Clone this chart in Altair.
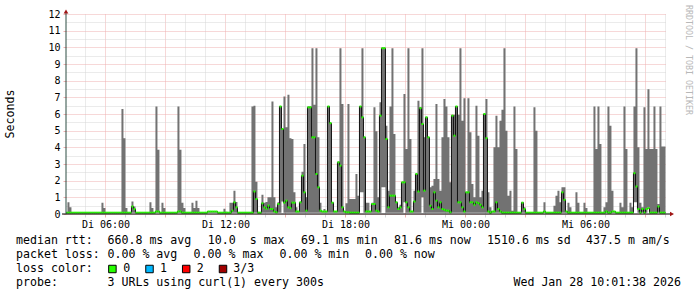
import altair as alt
import pandas as pd

# ---------------- data ----------------
# 6-minute bins counted from Tue 2026-01-27 04:00 UTC; values in seconds
spike_bin = [1, 2, 18, 19, 28, 29, 30, 33, 34, 42,
             43, 45, 46, 48, 49, 56, 57, 58, 59, 63,
             64, 65, 66, 71, 72, 73, 74, 75, 79, 80,
             82, 83, 84, 85, 93, 94, 95, 96, 98, 99,
             100, 101, 102, 103, 104, 105, 106, 107, 108, 109,
             110, 111, 112, 113, 114, 115, 116, 117, 118, 119,
             120, 121, 122, 123, 124, 125, 126, 127, 128, 129,
             130, 131, 132, 133, 134, 135, 136, 137, 138, 139,
             140, 141, 142, 143, 144, 145, 146, 147, 148, 149,
             150, 151, 152, 153, 154, 155, 156, 157, 158, 159,
             160, 161, 162, 163, 164, 165, 166, 167, 168, 169,
             170, 171, 172, 173, 174, 175, 176, 177, 178, 179,
             180, 181, 182, 183, 184, 185, 186, 187, 188, 189,
             190, 191, 192, 193, 194, 195, 196, 197, 198, 199,
             200, 201, 202, 203, 204, 205, 206, 207, 208, 209,
             210, 211, 212, 213, 214, 215, 216, 217, 218, 219,
             220, 221, 222, 223, 224, 225, 228, 229, 234, 235,
             239, 244, 245, 246, 247, 248, 249, 250, 251, 252,
             255, 256, 259, 260, 264, 265, 266, 267, 269, 270,
             271, 272, 273, 274, 277, 278, 279, 280, 282, 283,
             284, 285, 286, 287, 288, 289, 290, 291, 292, 293,
             294, 295, 296, 297, 298, 299]
spike_hi = [0.7, 0.4, 0.68, 0.36, 6.3, 4.55, 0.36, 0.75, 0.45, 0.7,
            0.36, 6.45, 3.86, 0.68, 0.36, 6.45, 3.86, 0.68, 0.36, 0.68,
            0.36, 0.8, 0.36, 0.15, 0.15, 0.15, 0.15, 0.15, 0.32, 0.14,
            0.68, 0.68, 1.39, 0.72, 6.45, 6.5, 1.93, 0.14, 1.16, 0.68,
            0.72, 1.0, 1.0, 6.75, 1.0, 0.4, 0.7, 6.45, 5.1, 7.05,
            5.2, 7.15, 4.54, 4.5, 1.3, 0.4, 0.15, 0.7, 2.53, 4.2,
            1.0, 6.45, 6.45, 9.95, 6.55, 9.95, 4.6, 0.68, 0.15, 0.3,
            0.15, 6.45, 5.45, 0.68, 0.15, 0.15, 3.15, 9.95, 6.6, 0.15,
            0.65, 6.6, 0.9, 0.9, 0.9, 2.4, 1.1, 6.45, 9.95, 4.6,
            0.68, 0.68, 0.15, 0.68, 6.4, 4.97, 1.0, 6.7, 9.95, 9.95,
            5.3, 1.4, 6.45, 9.95, 4.8, 0.7, 0.4, 0.55, 1.9, 7.2,
            3.9, 9.95, 4.5, 0.15, 1.4, 2.4, 6.8, 6.4, 9.95, 4.6,
            5.8, 4.6, 1.6, 1.7, 2.1, 6.6, 2.1, 1.4, 4.6, 6.9,
            6.45, 4.6, 1.9, 5.95, 5.95, 6.45, 5.95, 9.95, 5.6, 6.95,
            1.3, 6.95, 4.9, 1.8, 1.0, 6.5, 4.7, 1.0, 1.4, 6.0,
            6.9, 1.3, 0.4, 0.15, 4.0, 5.9, 4.0, 5.6, 6.25, 9.95,
            5.0, 1.1, 1.4, 0.2, 6.45, 3.9, 0.7, 0.4, 6.4, 5.0,
            0.7, 0.5, 1.1, 1.4, 0.7, 1.6, 1.6, 0.15, 0.68, 0.4,
            1.3, 0.68, 0.68, 0.36, 6.45, 3.9, 6.45, 4.2, 0.4, 0.7,
            6.45, 5.3, 1.4, 0.15, 0.68, 0.4, 6.45, 3.9, 0.68, 0.4,
            6.45, 9.95, 4.0, 0.68, 0.4, 6.4, 3.9, 7.48, 3.9, 3.9,
            6.45, 3.9, 0.6, 6.45, 4.05, 4.05]
spike_med = [0.08, 0.08, 0.08, 0.08, 0.08, 0.08, 0.08, 0.45, 0.3, 0.08,
             0.08, 0.15, 0.15, 0.08, 0.08, 0.15, 0.15, 0.08, 0.08, 0.08,
             0.08, 0.08, 0.08, 0.15, 0.15, 0.15, 0.15, 0.15, 0.08, 0.08,
             0.08, 0.2, 0.7, 0.4, 0.08, 1.35, 0.9, 0.08, 0.64, 0.4,
             0.32, 0.5, 0.3, 0.3, 0.15, 0.1, 0.6, 6.45, 5.1, 0.68,
             0.8, 0.4, 0.35, 0.68, 0.68, 0.15, 0.15, 0.7, 2.3, 1.3,
             0.2, 6.4, 6.4, 4.6, 4.6, 2.4, 1.6, 0.2, 0.15, 0.15,
             0.15, 6.45, 5.45, 0.68, 0.15, 0.15, 3.1, 2.9, 0.4, 0.15,
             0.1, 0.1, 0.08, 0.08, 0.08, 0.08, 0.08, 6.45, 5.8, 4.6,
             0.15, 0.15, 0.15, 0.6, 0.6, 0.2, 0.15, 5.9, 9.95, 9.95,
             4.5, 0.4, 1.1, 1.1, 1.1, 0.7, 0.3, 0.4, 1.9, 1.9,
             0.7, 0.4, 0.15, 0.15, 0.75, 2.4, 1.35, 6.35, 5.4, 1.4,
             5.8, 4.6, 0.5, 0.3, 1.3, 0.8, 0.4, 0.7, 0.3, 0.25,
             0.2, 0.2, 0.1, 5.9, 4.7, 6.45, 0.7, 0.7, 0.4, 0.15,
             1.3, 1.3, 0.7, 0.7, 0.55, 0.7, 0.65, 0.55, 0.4, 6.0,
             4.55, 0.15, 0.08, 0.15, 0.15, 0.7, 0.3, 0.15, 0.08, 0.08,
             0.08, 0.08, 0.08, 0.08, 0.08, 0.08, 0.68, 0.3, 0.08, 0.08,
             0.15, 0.08, 0.08, 0.08, 0.08, 1.3, 0.85, 0.15, 0.08, 0.08,
             0.08, 0.08, 0.08, 0.08, 0.08, 0.08, 0.08, 0.08, 0.08, 0.15,
             0.08, 0.08, 0.15, 0.15, 0.08, 0.08, 0.08, 0.08, 0.08, 0.08,
             2.45, 1.65, 0.3, 0.08, 0.3, 0.08, 0.3, 0.35, 0.08, 0.08,
             0.08, 0.08, 0.45, 0.08, 0.08, 0.08]
gap_bin = [108, 147, 148, 158, 159, 169, 178, 284, 285, 291]
gap_lo = [0.75, 1.3, 1.3, 1.6, 1.6, 0.7, 1.0, 0.7, 0.7, 0.4]
N_BINS = 300
BASE_SMOKE = 0.07
BASE_MED = 0.08

# y grid / tick values: integers carry red grid and labels, halves grey grid
y_grid = [0, 0.5, 1, 1.5, 2, 2.5, 3, 3.5, 4, 4.5, 5, 5.5, 6, 6.5, 7, 7.5, 8, 8.5,
          9, 9.5, 10, 10.5, 11, 11.5, 12]

legend1 = [("median rtt:", -50), ("660.8 ms avg", 41.5), ("10.0  s max", 141.8),
           ("69.1 ms min", 235), ("81.6 ms now", 328), ("1510.6 ms sd", 421),
           ("437.5 m am/s", 520)]
legend2 = [("packet loss:", -50), ("0.00 % avg", 41.5), ("0.00 % max", 127.6),
           ("0.00 % min", 213.5), ("0.00 % now", 299)]
loss_labels = ["0", "1", "2", "3/3"]
loss_colors = ["#26ff00", "#00b8ff", "#ff0000", "#a00000"]
loss_box_x = [46.4, 83.5, 120.2, 157]
loss_text_x = [57.3, 94, 130.7, 167.3]

# ---------------- build table ----------------
t0 = pd.Timestamp("2026-01-27T04:00:00Z")
dom0 = pd.Timestamp("2026-01-27T04:01:38Z")
dom1 = pd.Timestamp("2026-01-28T10:01:38Z")


def ms(ts):
    return int(ts.value // 10**6)


hi = [BASE_SMOKE] * N_BINS
lo = [BASE_SMOKE] * N_BINS
med = [BASE_MED] * N_BINS
for b, h, m in zip(spike_bin, spike_hi, spike_med):
    hi[b] = h
    med[b] = m
for b, l in zip(gap_bin, gap_lo):
    lo[b] = l

rows = []
for k in range(N_BINS):
    s = t0 + pd.Timedelta(minutes=6 * k)
    e = s + pd.Timedelta(minutes=6)
    rows.append({"t": ms(s), "t2": ms(e), "lo": lo[k], "hi": hi[k], "med": med[k]})
df = pd.DataFrame(rows)
last = dict(rows[-1])
last["t"] = last["t2"]
df_step = pd.concat([df, pd.DataFrame([last])], ignore_index=True)

hours = [ms(pd.Timestamp("2026-01-27T05:00:00Z") + pd.Timedelta(hours=h)) for h in range(30)]

FONT = "DejaVu Sans Mono"
RED_GRID = "#eeb0b0"
GREY_GRID = "#d6d6d6"
xscale = alt.Scale(type="utc", domain=[ms(dom0), ms(dom1)])
yscale = alt.Scale(domain=[0, 12], nice=False, zero=True)
one = pd.DataFrame({"a": [0]})

x_axis = alt.Axis(
    values=hours, title=None, domain=False, grid=True,
    gridColor={"condition": {"test": "utchours(datum.value) % 3 == 0", "value": RED_GRID},
               "value": GREY_GRID},
    gridDash=[1, 1], gridWidth=1, gridOpacity=1,
    tickSize=3,
    tickColor={"condition": {"test": "utchours(datum.value) % 3 == 0", "value": RED_GRID},
               "value": GREY_GRID},
    labelFont=FONT, labelFontSize=10, labelColor="#000000", labelPadding=7.5,
    labelBaseline="middle", labelAngle=0, labelFlush=False, labelOverlap=False,
    labelExpr="utchours(datum.value) % 6 == 0 ? (utcday(datum.value) == 2 ? 'Di' : 'Mi') + ' ' + utcFormat(datum.value, '%H:%M') : ''")
y_axis = alt.Axis(
    values=y_grid, title=None, domain=False, grid=True,
    gridColor={"condition": {"test": "datum.value % 1 == 0", "value": RED_GRID},
               "value": GREY_GRID},
    gridDash=[1, 1], gridWidth=1, gridOpacity=1,
    tickSize=3,
    tickColor={"condition": {"test": "datum.value % 1 == 0", "value": RED_GRID},
               "value": "rgba(0,0,0,0)"},
    labelFont=FONT, labelFontSize=10, labelColor="#000000", labelPadding=3,
    labelExpr="datum.value % 1 == 0 ? format(datum.value, 'd') : ''")


def X(field):
    return alt.X(field, scale=xscale, axis=x_axis)


def Y(field):
    return alt.Y(field, scale=yscale, axis=y_axis)


smoke = alt.Chart(df_step).mark_area(color="#727272", interpolate="step-after",
                                     clip=True, opacity=1).encode(
    x=X("t:T"), y=Y("lo:Q"), y2="hi:Q")

med_line = alt.Chart(df_step).mark_line(interpolate="step-after", color="#111111",
                                        strokeWidth=1, clip=True).encode(
    x=X("t:T"), y=Y("med:Q"))

med_green = alt.Chart(df).mark_rule(color="#26ff00", strokeWidth=2, clip=True).encode(
    x=X("t:T"), x2="t2:T", y=Y("med:Q"))

x_dom = alt.Chart(one).mark_rule(color="#000000", strokeWidth=1).encode(
    x=alt.value(-4), x2=alt.value(604), y=alt.value(200))
y_dom = alt.Chart(one).mark_rule(color="#2c4d43", strokeWidth=1).encode(
    x=alt.value(0), y=alt.value(-2), y2=alt.value(200))
arrow_up = alt.Chart(one).mark_point(shape="triangle-up", filled=True, size=22,
                                     color="#a01515", opacity=1).encode(
    x=alt.value(0), y=alt.value(-2.5))
arrow_right = alt.Chart(one).mark_point(shape="triangle-right", filled=True, size=22,
                                        color="#a01515", opacity=1).encode(
    x=alt.value(606), y=alt.value(200))


def txt(s, x, y, size=11.6, align="left", angle=0, color="#000000"):
    return alt.Chart(one).mark_text(font=FONT, fontSize=size, align=align,
                                    baseline="middle", angle=angle, color=color).encode(
        x=alt.value(x), y=alt.value(y), text=alt.value(s.replace(" ", "\u00a0")))


texts = []
for s, x in legend1:
    texts.append(txt(s, x, 226.7))
for s, x in legend2:
    texts.append(txt(s, x, 241.3))
texts.append(txt("loss color:", -50, 255))
for lab, col, bx, tx in zip(loss_labels, loss_colors, loss_box_x, loss_text_x):
    texts.append(alt.Chart(one).mark_square(size=56, color=col, fill=col, stroke="#000000",
                                            strokeWidth=1, opacity=1).encode(
        x=alt.value(bx), y=alt.value(255)))
    texts.append(txt(lab, tx, 255))
texts.append(txt("probe:", -50, 269.3))
texts.append(txt("3 URLs using curl(1) every 300s", 41.5, 269.3))
texts.append(txt("Wed Jan 28 10:01:38 2026", 615, 269.3, align="right"))
texts.append(txt("Seconds", -55.5, 100, align="center", angle=270))
texts.append(txt("RRDTOOL / TOBI OETIKER", 621.5, 46, size=8.3, align="center",
                 angle=90, color="#b8b8b8"))

chart = alt.layer(
    smoke, med_line, med_green, x_dom, y_dom, arrow_up, arrow_right, *texts
).properties(
    width=600, height=200, autosize="none",
    padding={"left": 66, "top": 14, "right": 31, "bottom": 83},
    background="#ffffff",
).configure_view(stroke=None).configure_axis(zindex=0)

chart.save("out.html", embed_options={"renderer": "svg", "actions": False})
